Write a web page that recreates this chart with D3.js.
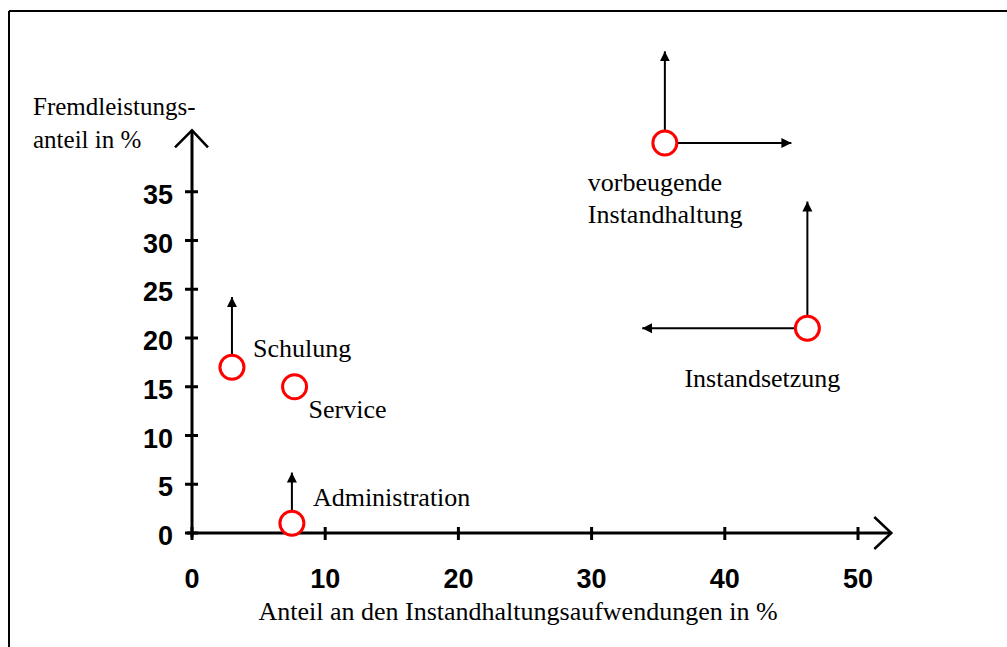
<!DOCTYPE html>
<html>
<head>
<meta charset="utf-8">
<script src="https://cdn.jsdelivr.net/npm/d3@7"></script>
<style>
  html, body { margin: 0; padding: 0; background: #fff; }
  svg { display: block; }
</style>
</head>
<body>
<svg id="chart" width="1007" height="647"></svg>
<script>
// ---- data ----
const names = ["Schulung", "Service", "Administration", "vorbeugende Instandhaltung", "Instandsetzung"];
const xValues = [3, 7.7, 7.5, 35.5, 46.2];   // Anteil an den Instandhaltungsaufwendungen in %
const yValues = [17, 15, 1, 40, 21];          // Fremdleistungsanteil in %
// arrows: [point index, target x, target y]
const arrowFrom = [0, 2, 3, 3, 4, 4];
const arrowToX  = [3, 7.5, 35.5, 45, 46.2, 33.8];
const arrowToY  = [24.2, 6.2, 49.4, 40, 34, 21];
const xTicks = [0, 10, 20, 30, 40, 50];
const yTicks = [0, 5, 10, 15, 20, 25, 30, 35];
const xTitle = "Anteil an den Instandhaltungsaufwendungen in %";
const yTitle = ["Fremdleistungs-", "anteil in %"];

// ---- layout ----
const svg = d3.select("#chart");
const x = d3.scaleLinear().domain([0, 50]).range([192, 858]);
const y = d3.scaleLinear().domain([0, 35]).range([533, 191.75]);
const serif = "'Liberation Serif', 'Times New Roman', serif";
const sans = "'Liberation Sans', Arial, sans-serif";
const serifSize = 26;

// frame (top + left)
svg.append("line").attr("x1", 9).attr("y1", 11).attr("x2", 1007).attr("y2", 11)
  .attr("stroke", "#000").attr("stroke-width", 2);
svg.append("line").attr("x1", 9).attr("y1", 11).attr("x2", 9).attr("y2", 647)
  .attr("stroke", "#000").attr("stroke-width", 2);

// arrow marker
svg.append("defs").append("marker")
  .attr("id", "tri").attr("viewBox", "0 0 10 10")
  .attr("refX", 10).attr("refY", 5)
  .attr("markerWidth", 10).attr("markerHeight", 12)
  .attr("markerUnits", "userSpaceOnUse")
  .attr("orient", "auto")
  .append("path").attr("d", "M0,0 L10,5 L0,10 Z").attr("fill", "#000");

// axes
const xEnd = 52.5, yEnd = 41.3;
const ax = svg.append("g").attr("stroke", "#000").attr("stroke-width", 3).attr("fill", "none");
ax.append("line").attr("x1", x(0) - 5).attr("y1", y(0)).attr("x2", x(xEnd)).attr("y2", y(0));
ax.append("line").attr("x1", x(0)).attr("y1", y(0) + 4).attr("x2", x(0)).attr("y2", y(yEnd));
ax.append("path").attr("stroke-width", 2.5)
  .attr("d", `M${x(xEnd) - 17},${y(0) - 16} L${x(xEnd)},${y(0)} L${x(xEnd) - 17},${y(0) + 16}`);
ax.append("path").attr("stroke-width", 2.5)
  .attr("d", `M${x(0) - 17},${y(yEnd) + 17} L${x(0)},${y(yEnd)} L${x(0) + 16},${y(yEnd) + 17}`);

// ticks
ax.selectAll(".xt").data(xTicks).join("line")
  .attr("x1", d => x(d)).attr("x2", d => x(d))
  .attr("y1", y(0) - 6).attr("y2", y(0) + 7);
ax.selectAll(".yt").data(yTicks).join("line")
  .attr("x1", x(0) - 7).attr("x2", x(0) + 6)
  .attr("y1", d => y(d)).attr("y2", d => y(d));

// tick labels
svg.selectAll(".xl").data(xTicks).join("text")
  .attr("x", d => x(d)).attr("y", 588)
  .attr("text-anchor", "middle")
  .attr("font-family", sans).attr("font-weight", "bold").attr("font-size", 27)
  .text(d => d);
svg.selectAll(".yl").data(yTicks).join("text")
  .attr("x", 173).attr("y", d => y(d) + 12)
  .attr("text-anchor", "end")
  .attr("font-family", sans).attr("font-weight", "bold").attr("font-size", 27)
  .text(d => d);

// axis titles
svg.append("text").attr("x", 518).attr("y", 620).attr("text-anchor", "middle")
  .attr("font-family", serif).attr("font-size", serifSize).text(xTitle);
svg.selectAll(".yti").data(yTitle).join("text")
  .attr("x", 33).attr("y", (d, i) => 115 + i * 33)
  .attr("font-family", serif).attr("font-size", 25).text(d => d);

// arrows
const R = 12;
svg.selectAll(".arr").data(arrowFrom).join("line")
  .each(function (p, i) {
    const cx = x(xValues[p]), cy = y(yValues[p]);
    const tx = x(arrowToX[i]), ty = y(arrowToY[i]);
    const len = Math.hypot(tx - cx, ty - cy);
    d3.select(this)
      .attr("x1", cx + (tx - cx) / len * R).attr("y1", cy + (ty - cy) / len * R)
      .attr("x2", tx).attr("y2", ty);
  })
  .attr("stroke", "#000").attr("stroke-width", 2)
  .attr("marker-end", "url(#tri)");

// points
svg.selectAll(".pt").data(names).join("circle")
  .attr("cx", (d, i) => x(xValues[i])).attr("cy", (d, i) => y(yValues[i]))
  .attr("r", R).attr("fill", "#fff").attr("stroke", "#ff0000").attr("stroke-width", 3);

// point labels (offsets in px)
const labelOffsets = [[21, -10], [14, 31], [21, -17], [-77, 48], [-123, 59]];
names.forEach((n, i) => {
  const [dx, dy] = labelOffsets[i];
  const words = i === 3 ? n.split(" ") : [n];
  const t = svg.append("text")
    .attr("font-family", serif).attr("font-size", serifSize)
    .attr("x", x(xValues[i]) + dx).attr("y", y(yValues[i]) + dy);
  words.forEach((w, k) => {
    t.append("tspan").attr("x", x(xValues[i]) + dx)
      .attr("y", y(yValues[i]) + dy + k * 32).text(w);
  });
});
</script>
</body>
</html>
